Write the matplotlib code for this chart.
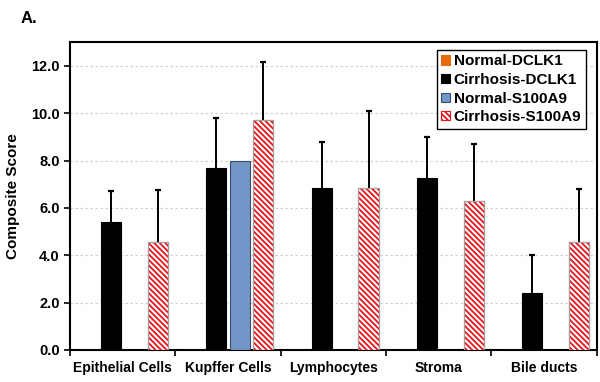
import numpy as np
import matplotlib
matplotlib.use("Agg")
import matplotlib.pyplot as plt

plt.rcParams['font.family'] = ['Liberation Sans', 'DejaVu Sans']
plt.rcParams['hatch.linewidth'] = 1.3

categories = ["Epithelial Cells", "Kupffer Cells", "Lymphocytes", "Stroma", "Bile ducts"]
series_names = ["Normal-DCLK1", "Cirrhosis-DCLK1", "Normal-S100A9", "Cirrhosis-S100A9"]

normal_dclk1 = [0, 0, 0, 0, 0]
cirrhosis_dclk1 = [5.4, 7.7, 6.85, 7.25, 2.4]
normal_s100a9 = [0, 8.0, 0, 0, 0]
cirrhosis_s100a9 = [4.55, 9.7, 6.85, 6.3, 4.55]

err_normal_dclk1 = [0, 0, 0, 0, 0]
err_cirrhosis_dclk1 = [1.3, 2.1, 1.95, 1.75, 1.6]
err_normal_s100a9 = [0, 0, 0, 0, 0]
err_cirrhosis_s100a9 = [2.2, 2.45, 3.25, 2.4, 2.25]

values = [normal_dclk1, cirrhosis_dclk1, normal_s100a9, cirrhosis_s100a9]
errors = [err_normal_dclk1, err_cirrhosis_dclk1, err_normal_s100a9, err_cirrhosis_s100a9]
styles = [
    dict(color="#E46C0A", edgecolor="#E46C0A"),
    dict(color="black", edgecolor="black"),
    dict(color="#7396C8", edgecolor="#3C4E66"),
    dict(color="white", edgecolor="#E8141B", hatch="\\\\\\\\\\\\"),
]

fig = plt.figure(figsize=(6, 3.82), dpi=100)
ax = fig.add_axes([0.1167, 0.0838, 0.878, 0.806])

x = np.arange(len(categories))
step = 0.222
width = 0.19
for i, (vals, errs, st) in enumerate(zip(values, errors, styles)):
    pos = x + (i - 1.5) * step
    ax.bar(pos, vals, width, label=series_names[i], linewidth=0.8, zorder=3, **st)
    if i == 3:
        # gray outline around hatched bars
        ax.bar(pos, vals, width, fill=False, edgecolor="#A0A0A0", linewidth=0.8, zorder=4)
    # upper error bars only, cap on top
    for p, v, e in zip(pos, vals, errs):
        if e > 0:
            ax.vlines(p, v, v + e, color="black", linewidth=1.4, zorder=2)
            ax.plot([p], [v + e], marker="_", markersize=5, markeredgewidth=1.6,
                    color="black", zorder=2)

ax.set_xlim(-0.5, len(categories) - 0.5)
ax.set_ylim(0, 13)
ax.set_yticks(np.arange(0, 13, 2))
ax.set_yticklabels([f"{t:.1f}" for t in np.arange(0, 13, 2)], fontsize=10.5, fontweight="bold")
ax.set_xticks(x)
ax.set_xticklabels(categories, fontsize=10, fontweight="bold")
ax.set_xticks(np.arange(-0.5, len(categories)), minor=True)
ax.tick_params(axis="x", which="major", length=0, pad=8)
ax.tick_params(axis="x", which="minor", length=4, width=1.2, direction="out")
ax.tick_params(axis="y", length=4, width=1.2, direction="out")
ax.yaxis.grid(True, linestyle=(0, (2, 2)), color="#D0D0D0", linewidth=0.9, zorder=0)
ax.set_axisbelow(True)
for s in ax.spines.values():
    s.set_linewidth(1.5)

ax.set_ylabel("Composite Score", fontsize=11, fontweight="bold", labelpad=8)

leg = ax.legend(loc="upper right", bbox_to_anchor=(0.985, 0.985), fancybox=False,
                edgecolor="black", framealpha=1, prop=dict(weight="bold", size=11),
                handlelength=0.55, handleheight=0.55, handletextpad=0.25, borderpad=0.3,
                labelspacing=0.3, borderaxespad=0.2)
leg.get_frame().set_linewidth(1.0)

fig.text(0.035, 0.94, "A.", fontsize=12, fontweight="bold")

fig.savefig("out.png", dpi=100)
